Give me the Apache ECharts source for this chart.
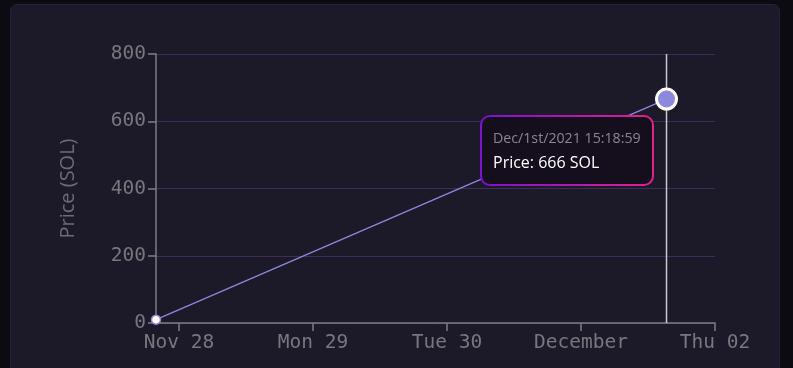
<!DOCTYPE html>
<html>
<head>
<meta charset="utf-8">
<script src="https://cdn.jsdelivr.net/npm/echarts@6/dist/echarts.min.js"></script>
<style>
html,body{margin:0;padding:0;width:793px;height:368px;background:#0c0b11;overflow:hidden;}
#card{position:absolute;left:10px;top:4px;width:770px;height:400px;background:#1c1a28;border-radius:7px;border:1px solid #24223a;box-sizing:border-box;}
#chart{position:absolute;left:0;top:0;width:793px;height:368px;}
</style>
</head>
<body>
<div id="card"></div>
<div id="chart"></div>
<script>
const saleTimes = ["2021-11-27T19:53:00", "2021-12-01T15:18:59"];
const salePrices = [10, 666];
const tooltipLabels = ["Nov/27th/2021 19:53:00", "Dec/1st/2021 15:18:59"];
const yTicks = [0, 200, 400, 600, 800];
const xMin = "2021-11-27T19:53:00";
const xMax = "2021-12-02T00:00:00";

const chart = echarts.init(document.getElementById('chart'), null, {renderer: 'canvas'});
const data = saleTimes.map((t, i) => {
  const d = {value: [t, salePrices[i]], label: tooltipLabels[i]};
  if (i === saleTimes.length - 1) {
    d.symbolSize = 20;
    d.itemStyle = {color: '#8c88de', borderColor: '#ffffff', borderWidth: 3};
  } else {
    d.symbolSize = 9;
    d.itemStyle = {color: '#ffffff', borderColor: '#8c88de', borderWidth: 1.5};
  }
  return d;
});
const monthNames = ['Jan','Feb','Mar','Apr','May','Jun','Jul','Aug','Sep','Oct','Nov','Dec'];
const dayNames = ['Sun','Mon','Tue','Wed','Thu','Fri','Sat'];
const monthFull = ['January','February','March','April','May','June','July','August','September','October','November','December'];
chart.setOption({
  animation: false,
  grid: {left: 156, right: 78, top: 54, bottom: 45},
  xAxis: {
    type: 'time',
    min: xMin, max: xMax,
    splitNumber: 5,
    axisLine: {lineStyle: {color: '#7d7d85', width: 1.5}},
    axisTick: {show: true, length: 8, lineStyle: {color: '#7d7d85', width: 1.5}},
    splitLine: {show: false},
    axisLabel: {
      color: '#77777d', fontFamily: 'DejaVu Sans Mono', fontSize: 19.5, margin: 10,
      hideOverlap: false,
      formatter: function (v) {
        const d = new Date(v);
        if (d.getDate() === 1) return monthFull[d.getMonth()];
        if (d.getDate() === 28) return monthNames[d.getMonth()] + ' ' + d.getDate();
        return dayNames[d.getDay()] + ' ' + String(d.getDate()).padStart(2, '0');
      }
    }
  },
  yAxis: {
    type: 'value', min: 0, max: 800, interval: 200,
    name: 'Price (SOL)', nameLocation: 'middle', nameGap: 78, nameRotate: 90,
    nameTextStyle: {color: '#6c6a7c', fontFamily: 'Open Sans', fontSize: 20},
    axisLine: {show: true, lineStyle: {color: '#7d7d85', width: 1.5}},
    axisTick: {show: true, length: 8, lineStyle: {color: '#7d7d85', width: 1.5}},
    splitLine: {lineStyle: {color: '#3e2f58', width: 1}},
    axisLabel: {color: '#77777d', fontFamily: 'DejaVu Sans Mono', fontSize: 19.5, margin: 10,
      formatter: v => yTicks.includes(v) ? String(v) : ''}
  },
  tooltip: {
    trigger: 'item',
    alwaysShowContent: true,
    triggerOn: 'none',
    backgroundColor: '#150f1d',
    borderWidth: 0,
    padding: [9, 11],
    extraCssText: 'border:2px solid transparent;border-radius:10px;background:linear-gradient(#150f1d,#150f1d) padding-box,linear-gradient(90deg,#7a12d0,#e0228e) border-box;box-shadow:none;',
    textStyle: {fontFamily: 'Open Sans', fontSize: 14},
    position: function (point, params, dom, rect, size) {
      return [point[0] - size.contentSize[0] - 13, point[1] + 16];
    },
    formatter: function (p) {
      return '<div style="color:#8a8594;font-size:14.2px;line-height:24px;font-family:Open Sans">' + p.data.label + '</div>' +
             '<div style="color:#ffffff;font-size:16px;line-height:25px;font-family:Open Sans">Price: ' + p.data.value[1] + ' SOL</div>';
    }
  },
  series: [{
    type: 'line',
    data: data,
    symbol: 'circle',
    showAllSymbol: true,
    lineStyle: {color: '#8c88de', width: 1.3},
    emphasis: {disabled: true},
    z: 5
  }, {
    type: 'line',
    data: [[saleTimes[1], 0], [saleTimes[1], 800]],
    symbol: 'none',
    lineStyle: {color: '#c8c8cc', width: 1.5},
    tooltip: {show: false},
    silent: true,
    z: 3
  }]
});
chart.dispatchAction({type: 'showTip', seriesIndex: 0, dataIndex: 1});
</script>
</body>
</html>
